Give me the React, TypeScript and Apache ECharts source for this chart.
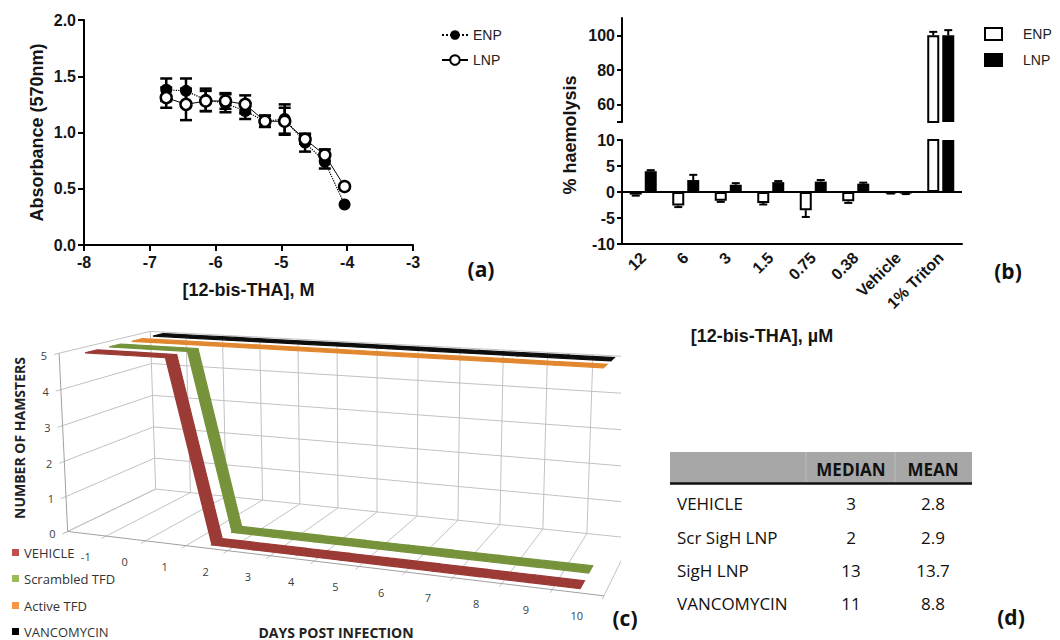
import React, { useEffect, useRef } from "react";
import * as echarts from "echarts";

// ---------- Panel (a): absorbance vs log10 concentration ----------
const logConc = [-6.75, -6.45, -6.15, -5.85, -5.55, -5.25, -4.95, -4.64, -4.34, -4.04];
const enpAbs = [1.38, 1.37, 1.29, 1.26, 1.19, 1.1, 1.12, 0.91, 0.74, 0.36];
const enpAbsErr = [0.1, 0.11, 0.1, 0.08, 0.07, 0.05, 0.13, 0.08, 0.06, 0];
const lnpAbs = [1.31, 1.25, 1.28, 1.28, 1.25, 1.1, 1.1, 0.94, 0.8, 0.52];
const lnpAbsErr = [0.09, 0.14, 0.09, 0.07, 0.08, 0.05, 0.12, 0.04, 0.05, 0];

// ---------- Panel (b): haemolysis ----------
const hemoCats = ["12", "6", "3", "1.5", "0.75", "0.38", "Vehicle", "1% Triton"];
const enpHemo = [-0.5, -2.6, -1.7, -2.1, -3.5, -1.8, -0.2, 100];
const enpHemoErr = [0.2, 0.3, 0.2, 0.3, 1.3, 0.3, 0.1, 2];
const lnpHemo = [4.0, 2.3, 1.4, 1.9, 2.0, 1.6, -0.3, 100];
const lnpHemoErr = [0.2, 1.0, 0.3, 0.2, 0.3, 0.2, 0.1, 3];
const hemoUpperTicks = [60, 80, 100];

// ---------- Panel (c): survival ----------
const dayLabels = ["-1", "0", "1", "2", "3", "4", "5", "6", "7", "8", "9", "10"];
const hamsterTicks = [0, 1, 2, 3, 4, 5];
const vehicleCount = [5, 5, 5, 0, 0, 0, 0, 0, 0, 0, 0, 0];
const scrambledCount = [5, 5, 5, 0, 0, 0, 0, 0, 0, 0, 0, 0];
const activeCount = [5, 5, 5, 5, 5, 5, 5, 5, 5, 5, 5, 5];
const vancoCount = [5, 5, 5, 5, 5, 5, 5, 5, 5, 5, 5, 5];
const survivalNames = ["VEHICLE", "Scrambled TFD", "Active TFD", "VANCOMYCIN"];

// ---------- Panel (d): table ----------
const tableHeader = ["MEDIAN", "MEAN"];
const tableGroups = ["VEHICLE", "Scr SigH LNP", "SigH LNP", "VANCOMYCIN"];
const tableMedian = ["3", "2", "13", "11"];
const tableMean = ["2.8", "2.9", "13.7", "8.8"];

// ---------- layout / styling ----------
const FA = "'Liberation Sans', Arial, sans-serif";
const FC = "'Open Sans', 'Noto Sans', sans-serif";
const INK = "#151515";

// 3D camera calibration for panel (c): [u, v, w, px, py]
const CAL: number[][] = [
  [0, 0, 0, 67, 531],
  [0, 1, 0, 60, 353],
  [0, 0, 1, 156, 492],
  [0, 1, 1, 152, 331],
  [1, 0, 0, 604, 597],
  [1 / 24, 0, 0, 87, 533],
  [5.5 / 12, 0, 0, 292, 558],
  [11.5 / 12, 0, 0, 578, 594],
  [0.5, 1, 1, 377, 344],
  [0.5, 0, 1, 377, 510],
  [1 / 24, 1, 1 / 8, 92, 352],
  [1 / 24, 1, 3 / 8, 114, 346],
  [1 / 24, 1, 5 / 8, 136, 339],
  [1 / 24, 1, 7 / 8, 157, 334],
  [23 / 24, 0, 1 / 8, 583, 585],
  [23 / 24, 0, 3 / 8, 590, 567],
  [23 / 24, 1, 5 / 8, 605, 367],
  [23 / 24, 1, 7 / 8, 613, 359],
];

function fitProjection(cal: number[][]) {
  const n = 11;
  const M: number[][] = Array.from({ length: n }, () => new Array(n + 1).fill(0));
  const add = (row: number[], r: number) => {
    for (let i = 0; i < n; i++) {
      for (let j = 0; j < n; j++) M[i][j] += row[i] * row[j];
      M[i][n] += row[i] * r;
    }
  };
  for (const [X, Y, Z, x, y] of cal) {
    add([X, Y, Z, 1, 0, 0, 0, 0, -x * X, -x * Y, -x * Z], x);
    add([0, 0, 0, 0, X, Y, Z, 1, -y * X, -y * Y, -y * Z], y);
  }
  for (let c = 0; c < n; c++) {
    let p = c;
    for (let r = c + 1; r < n; r++) if (Math.abs(M[r][c]) > Math.abs(M[p][c])) p = r;
    const t = M[c]; M[c] = M[p]; M[p] = t;
    for (let r = 0; r < n; r++) {
      if (r === c) continue;
      const f = M[r][c] / M[c][c];
      for (let k = c; k <= n; k++) M[r][k] -= f * M[c][k];
    }
  }
  const q = M.map((row, i) => row[n] / row[i]);
  return (X: number, Y: number, Z: number): number[] => {
    const d = q[8] * X + q[9] * Y + q[10] * Z + 1;
    return [(q[0] * X + q[1] * Y + q[2] * Z + q[3]) / d, (q[4] * X + q[5] * Y + q[6] * Z + q[7]) / d];
  };
}
const P = fitProjection(CAL);

function txt(x: number, y: number, text: string, o: any = {}) {
  return {
    type: "text",
    x,
    y,
    rotation: o.rotation || 0,
    z: o.z ?? 20,
    silent: true,
    style: {
      text,
      fill: o.fill || INK,
      fontSize: o.size || 14,
      fontWeight: o.weight || "normal",
      fontFamily: o.family || FA,
      align: o.align || "left",
      verticalAlign: o.valign || "middle",
      textAlign: o.align || "left",
      textVerticalAlign: o.valign || "middle",
    },
  };
}

function buildGraphics() {
  const g: any[] = [];
  const nCat = dayLabels.length;
  const vMax = hamsterTicks[hamsterTicks.length - 1];
  const line = (a: number[], b: number[], color = "#c2c2c2", w = 1) =>
    g.push({ type: "line", silent: true, z: 1, shape: { x1: a[0], y1: a[1], x2: b[0], y2: b[1] }, style: { stroke: color, lineWidth: w } });
  for (const t of hamsterTicks) {
    const v = t / vMax;
    line(P(0, v, 1), P(1, v, 1));
    line(P(0, v, -0.05), P(0, v, 1));
  }
  for (let j = 0; j <= nCat; j++) {
    const u = j / nCat;
    line(P(u, 0, 1), P(u, 1, 1));
    line(P(u, 0, -0.05), P(u, 0, 1));
  }
  line(P(0, 0, 0), P(0, 1, 0), "#a0a0a0");
  line(P(0, 0, 0), P(1, 0, 0), "#a0a0a0");
  hamsterTicks.forEach((t) => {
    const p = P(0, t / vMax, 0);
    g.push(txt(p[0] - 12, p[1] + 2, String(t), { family: FC, size: 11, fill: "#404040", align: "right" }));
  });
  dayLabels.forEach((d, i) => {
    const p = P((i + 0.5) / nCat, 0, 0);
    g.push(txt(p[0] - 1, p[1] + 23, d, { family: FC, size: 11, fill: "#404040", align: "center" }));
  });
  // clip panel (c) at its right edge
  g.push({ type: "rect", silent: true, z: 10, shape: { x: 621, y: 318, width: 48, height: 300 }, style: { fill: "#fff" } });

  // panel (c) legend + titles
  const legColors = ["#C0504D", "#9BBB59", "#F79646", "#000000"];
  const legY = [553, 579, 606, 632];
  survivalNames.forEach((nm, i) => {
    g.push({ type: "rect", silent: true, z: 20, shape: { x: 12, y: legY[i] - 4, width: 7, height: 7 }, style: { fill: legColors[i] } });
    g.push(txt(24, legY[i], nm, { family: FC, size: 13, fill: "#333" }));
  });
  g.push(txt(336, 632, "DAYS POST INFECTION", { family: FC, size: 14, weight: "bold", fill: "#222", align: "center" }));
  g.push(txt(19, 438, "NUMBER OF HAMSTERS", { family: FC, size: 14, weight: "bold", fill: "#222", align: "center", rotation: Math.PI / 2 }));

  // panel (b) legend + titles
  g.push({ type: "rect", silent: true, z: 20, shape: { x: 985, y: 28, width: 17, height: 12 }, style: { fill: "#fff", stroke: "#000", lineWidth: 2 } });
  g.push({ type: "rect", silent: true, z: 20, shape: { x: 984, y: 53, width: 19, height: 14 }, style: { fill: "#000" } });
  g.push(txt(1023, 34, "ENP", { size: 14, fill: "#222" }));
  g.push(txt(1023, 60, "LNP", { size: 14, fill: "#222" }));
  g.push(txt(762, 336, "[12-bis-THA], \u00b5M", { size: 18, weight: "bold", align: "center" }));
  g.push(txt(570, 135, "% haemolysis", { size: 18, weight: "bold", align: "center", rotation: Math.PI / 2 }));

  // panel (d) table
  g.push({ type: "rect", silent: true, z: 5, shape: { x: 670, y: 452, width: 302, height: 31 }, style: { fill: "#a7a7a7" } });
  [806, 895].forEach((x) =>
    g.push({ type: "line", silent: true, z: 6, shape: { x1: x, y1: 452, x2: x, y2: 482 }, style: { stroke: "#bdbdbd", lineWidth: 1 } })
  );
  g.push({ type: "line", silent: true, z: 6, shape: { x1: 670, y1: 483.5, x2: 972, y2: 483.5 }, style: { stroke: "#111", lineWidth: 2.5 } });
  const colX = [851, 933];
  tableHeader.forEach((h, i) => g.push(txt(colX[i], 469, h, { family: FC, size: 17, weight: "bold", fill: "#111", align: "center" })));
  const rowY = [503, 537, 570, 603];
  tableGroups.forEach((nm, i) => {
    g.push(txt(677, rowY[i], nm, { family: FC, size: 17, fill: "#111" }));
    g.push(txt(colX[0], rowY[i], tableMedian[i], { family: FC, size: 17, fill: "#111", align: "center" }));
    g.push(txt(colX[1], rowY[i], tableMean[i], { family: FC, size: 17, fill: "#111", align: "center" }));
  });

  // panel letters
  g.push(txt(481, 269, "(a)", { family: FC, size: 21, weight: "bold", fill: "#111", align: "center" }));
  g.push(txt(1008, 271, "(b)", { family: FC, size: 21, weight: "bold", fill: "#111", align: "center" }));
  g.push(txt(625, 618, "(c)", { family: FC, size: 21, weight: "bold", fill: "#111", align: "center" }));
  g.push(txt(1011, 617, "(d)", { family: FC, size: 21, weight: "bold", fill: "#111", align: "center" }));
  return g;
}

function errBarA(name: string, ys: number[], errs: number[]) {
  return {
    type: "custom",
    name,
    xAxisIndex: 0,
    yAxisIndex: 0,
    z: 1,
    silent: true,
    data: logConc.map((x, i) => [x, ys[i], errs[i]]),
    renderItem: (_p: any, api: any) => {
      const x = api.value(0), y = api.value(1), e = api.value(2);
      if (!e) return null;
      const a = api.coord([x, y + e]);
      const b = api.coord([x, y - e]);
      const hw = 6;
      const st = { stroke: "#000", lineWidth: 2.5 };
      return {
        type: "group",
        children: [
          { type: "line", shape: { x1: a[0], y1: a[1], x2: b[0], y2: b[1] }, style: st },
          { type: "line", shape: { x1: a[0] - hw, y1: a[1], x2: a[0] + hw, y2: a[1] }, style: st },
          { type: "line", shape: { x1: b[0] - hw, y1: b[1], x2: b[0] + hw, y2: b[1] }, style: st },
        ],
      };
    },
  };
}

const BAR_OFF = 7.5;
function errBarB(name: string, axis: number, vals: number[], errs: number[], side: number) {
  return {
    type: "custom",
    name,
    xAxisIndex: axis,
    yAxisIndex: axis,
    z: 4,
    silent: true,
    data: vals.map((v, i) => [i, v, errs[i]]),
    renderItem: (params: any, api: any) => {
      const ci = api.value(0), v = api.value(1), e = api.value(2);
      const end = v + (v < 0 ? -e : e);
      const p0 = api.coord([ci, v]);
      const p1 = api.coord([ci, end]);
      const cs = params.coordSys;
      const inside = (y: number) => y >= cs.y - 0.5 && y <= cs.y + cs.height + 0.5;
      if (!inside(p0[1]) || !inside(p1[1])) return null;
      const x = p0[0] + side * BAR_OFF;
      const st = { stroke: "#000", lineWidth: 2 };
      return {
        type: "group",
        children: [
          { type: "line", shape: { x1: x, y1: p0[1], x2: x, y2: p1[1] }, style: st },
          { type: "line", shape: { x1: x - 4, y1: p1[1], x2: x + 4, y2: p1[1] }, style: st },
        ],
      };
    },
  };
}

function ribbon(name: string, counts: number[], slot: number, color: string) {
  const nCat = dayLabels.length;
  const vMax = hamsterTicks[hamsterTicks.length - 1];
  const wc = (2 * slot + 1) / 8;
  const half = 1 / 16;
  return {
    type: "custom",
    name,
    coordinateSystem: "none",
    z: 3 + (3 - slot),
    silent: true,
    data: counts.map((c, i) => [i, c]),
    renderItem: (_p: any, api: any) => {
      const i = api.value(0) as number;
      if (i >= counts.length - 1) return null;
      const u0 = (i + 0.5) / nCat, u1 = (i + 1.5) / nCat;
      const v0 = (api.value(1) as number) / vMax, v1 = counts[i + 1] / vMax;
      const pts = [P(u0, v0, wc - half), P(u1, v1, wc - half), P(u1, v1, wc + half), P(u0, v0, wc + half)];
      return { type: "polygon", shape: { points: pts }, style: { fill: color, stroke: color, lineWidth: 1.2 } };
    },
  };
}

function buildOption(): any {
  const axisLineStyle = { lineStyle: { color: "#000", width: 2 } };
  const tickStyle = { lineStyle: { color: "#000", width: 2 } };
  const labelA = { fontFamily: FA, fontWeight: "bold", fontSize: 16, color: INK };
  return {
    animation: false,
    backgroundColor: "#fff",
    grid: [
      { left: 84, top: 20, width: 329, height: 225 },
      { left: 622, top: 18, width: 340, height: 104 },
      { left: 622, top: 140, width: 340, height: 104 },
    ],
    legend: {
      left: 436,
      top: 23,
      orient: "vertical",
      itemWidth: 26,
      itemHeight: 12,
      itemGap: 11,
      selectedMode: false,
      data: ["ENP", "LNP"],
      textStyle: { fontFamily: FA, fontSize: 14, color: "#222" },
    },
    xAxis: [
      {
        type: "value", gridIndex: 0, min: -8, max: -3, interval: 1,
        axisLine: { onZero: false, ...axisLineStyle },
        axisTick: { length: 6, ...tickStyle },
        axisLabel: { ...labelA, margin: 9 },
        splitLine: { show: false },
        name: "[12-bis-THA], M", nameLocation: "middle", nameGap: 36,
        nameTextStyle: { fontFamily: FA, fontWeight: "bold", fontSize: 18, color: INK },
      },
      { type: "category", gridIndex: 1, data: hemoCats, show: false },
      {
        type: "category", gridIndex: 2, data: hemoCats,
        axisLine: { onZero: false, ...axisLineStyle },
        axisTick: { alignWithLabel: true, length: 5, ...tickStyle },
        axisLabel: { ...labelA, fontSize: 16, rotate: 45, margin: 11, interval: 0 },
      },
    ],
    yAxis: [
      {
        type: "value", gridIndex: 0, min: 0, max: 2, interval: 0.5,
        axisLine: { show: true, ...axisLineStyle },
        axisTick: { show: true, length: 6, ...tickStyle },
        axisLabel: { ...labelA, margin: 8, formatter: (v: number) => v.toFixed(1) },
        splitLine: { show: false },
        name: "Absorbance (570nm)", nameLocation: "middle", nameGap: 38, nameRotate: 90,
        nameTextStyle: { fontFamily: FA, fontWeight: "bold", fontSize: 18, color: INK },
      },
      {
        type: "value", gridIndex: 1, min: 50, max: 110,
        axisLine: { show: true, ...axisLineStyle },
        axisTick: { show: true, length: 5, customValues: [50, ...hemoUpperTicks], ...tickStyle },
        axisLabel: { ...labelA, margin: 7, customValues: hemoUpperTicks },
        splitLine: { show: false },
      },
      {
        type: "value", gridIndex: 2, min: -10, max: 10, interval: 5,
        axisLine: { show: true, ...axisLineStyle },
        axisTick: { show: true, length: 5, ...tickStyle },
        axisLabel: { ...labelA, margin: 7 },
        splitLine: { show: false },
      },
    ],
    series: [
      errBarA("ENP SEM", enpAbs, enpAbsErr),
      errBarA("LNP SEM", lnpAbs, lnpAbsErr),
      {
        type: "line", name: "ENP", xAxisIndex: 0, yAxisIndex: 0, z: 3,
        data: logConc.map((x, i) => [x, enpAbs[i]]),
        symbol: "circle", symbolSize: 12,
        itemStyle: { color: "#000" },
        lineStyle: { color: "#000", width: 1.2, type: "dotted" },
      },
      {
        type: "line", name: "LNP", xAxisIndex: 0, yAxisIndex: 0, z: 4,
        data: logConc.map((x, i) => [x, lnpAbs[i]]),
        symbol: "circle", symbolSize: 11,
        itemStyle: { color: "#fff", borderColor: "#000", borderWidth: 2.5 },
        lineStyle: { color: "#000", width: 1 },
      },
      {
        type: "bar", name: "ENP", xAxisIndex: 1, yAxisIndex: 1, barWidth: 12, barGap: "25%",
        data: enpHemo, itemStyle: { color: "#fff", borderColor: "#000", borderWidth: 2 },
      },
      {
        type: "bar", name: "LNP", xAxisIndex: 1, yAxisIndex: 1, barWidth: 12, barGap: "25%",
        data: lnpHemo, itemStyle: { color: "#000" },
      },
      {
        type: "bar", name: "ENP", xAxisIndex: 2, yAxisIndex: 2, barWidth: 12, barGap: "25%",
        data: enpHemo, itemStyle: { color: "#fff", borderColor: "#000", borderWidth: 2 },
      },
      {
        type: "bar", name: "LNP", xAxisIndex: 2, yAxisIndex: 2, barWidth: 12, barGap: "25%",
        data: lnpHemo, itemStyle: { color: "#000" },
        markLine: {
          silent: true, symbol: "none", label: { show: false },
          lineStyle: { color: "#000", width: 2, type: "solid" },
          data: [{ yAxis: 0 }],
        },
      },
      errBarB("ENP err up", 1, enpHemo, enpHemoErr, -1),
      errBarB("LNP err up", 1, lnpHemo, lnpHemoErr, 1),
      errBarB("ENP err low", 2, enpHemo, enpHemoErr, -1),
      errBarB("LNP err low", 2, lnpHemo, lnpHemoErr, 1),
      ribbon(survivalNames[3], vancoCount, 3, "#0d0d0d"),
      ribbon(survivalNames[2], activeCount, 2, "#E1872F"),
      ribbon(survivalNames[1], scrambledCount, 1, "#76933C"),
      ribbon(survivalNames[0], vehicleCount, 0, "#9C3A35"),
    ],
    graphic: { elements: buildGraphics() },
  };
}

export default function App() {
  const ref = useRef<HTMLDivElement>(null);
  useEffect(() => {
    if (!ref.current) return;
    const chart = echarts.init(ref.current, undefined, { renderer: "svg" });
    chart.setOption(buildOption());
    return () => chart.dispose();
  }, []);
  return (
    <div
      ref={ref}
      style={{ position: "absolute", left: 0, top: 0, width: 1060, height: 640, background: "#fff" }}
    />
  );
}
